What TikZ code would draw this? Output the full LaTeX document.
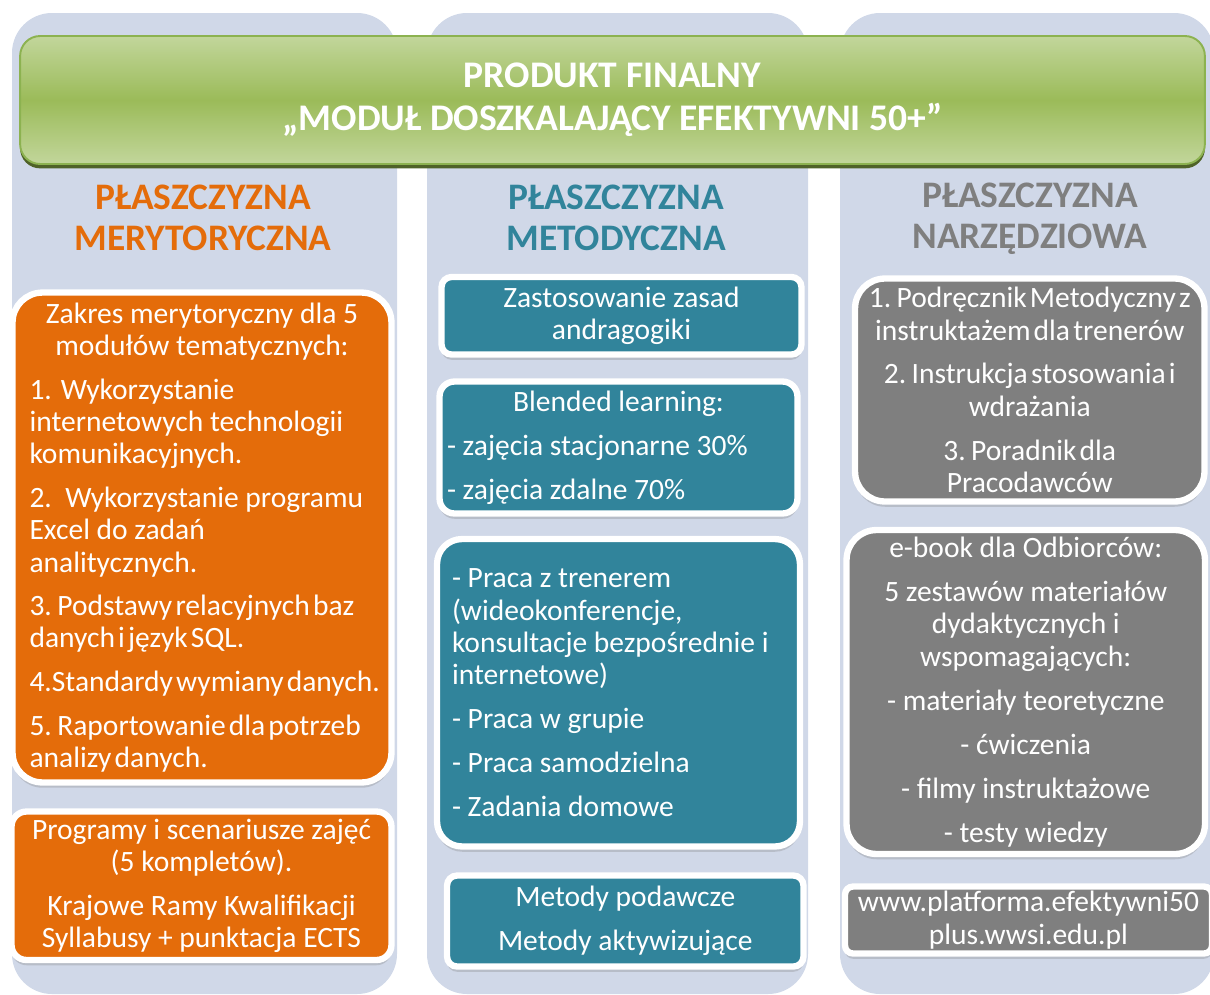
\documentclass[tikz,border=0pt]{standalone}
\usepackage{fontspec}
\setmainfont{Carlito}
\usetikzlibrary{shadows}

\definecolor{colbg}{RGB}{208,216,232}
\definecolor{merora}{RGB}{228,108,10}
\definecolor{metteal}{RGB}{49,132,155}
\definecolor{nargray}{RGB}{127,127,127}
\definecolor{banlight}{RGB}{194,214,155}
\definecolor{banmid}{RGB}{155,187,89}
\definecolor{banline}{RGB}{140,178,80}
\definecolor{banshadow}{RGB}{79,98,40}

\newcommand{\narrowsp}{\spaceskip 1.8pt plus 1pt\relax}

\tikzstyle{col} = [fill=colbg, rounded corners=0.8cm]
\tikzstyle{ban} = [rectangle, rounded corners=0.4cm, minimum width=23.7cm, minimum height=2.56cm, inner sep=0pt, draw=banline, line width=1.1pt, top color=banlight, bottom color=banlight, middle color=banmid, drop shadow={shadow xshift=0pt, shadow yshift=-2.5pt, fill=banshadow, opacity=1}, text=white, align=center, font=\fontsize{21.4}{24.4}\selectfont\bfseries]
\tikzstyle{hdr} = [align=center, font=\fontsize{21.3}{23.2}\selectfont\bfseries]
\tikzstyle{card} = [rectangle, inner sep=0pt, draw=white, line width=3.6pt, text=white, align=center, drop shadow={shadow xshift=0pt, shadow yshift=-3pt, opacity=.3}, font=\fontsize{16.8}{18.4}\selectfont]
\tikzstyle{mer} = [card, fill=merora]
\tikzstyle{met} = [card, fill=metteal]
\tikzstyle{nar} = [card, fill=nargray]

\begin{document}
\begin{tikzpicture}[x=0.02cm, y=-0.02cm]
\useasboundingbox (0,0) rectangle (1210,994);

%% Columns
\fill [col] (12,13) rectangle (397,994);
\fill [col] (427,13) rectangle (808,994);
\fill [col] (840,13) rectangle (1214,994);

%% Final product
\node (ban_fin) [ban] at (612.5,100) {PRODUKT FINALNY\\„MODUŁ DOSZKALAJĄCY EFEKTYWNI 50+”};

%% Names
\node (hdr_mer) [hdr, text=merora] at (203,217.5) {PŁASZCZYZNA\\MERYTORYCZNA};
\node (hdr_met) [hdr, text=metteal] at (616,217.5) {PŁASZCZYZNA\\METODYCZNA};
\node (hdr_nar) [hdr, text=nargray] at (1030,218.5) {PŁASZCZYZNA\\NARZĘDZIOWA};

%% Merytoryczna
\node (mer_zak) [mer, minimum width=7.58cm, minimum height=9.8cm, rounded corners=0.6cm, text width=6.9cm, align=flush left] at (202,537.5)
  {{\centering Zakres merytoryczny dla 5\\ modułów tematycznych:\par}\vspace{6.4pt}
   1. Wykorzystanie\\ internetowych technologii\\ komunikacyjnych.\\[6.4pt]
   2.\ \ Wykorzystanie programu\\ Excel do zadań\\ analitycznych.\\[6.4pt]
   {\narrowsp
   3. Podstawy relacyjnych baz\\ danych i język SQL.\\[6.4pt]
   \mbox{4.Standardy wymiany danych.}\\[6.4pt]
   5. Raportowanie dla potrzeb\\ analizy danych.}};
\node (mer_pro) [mer, minimum width=7.6cm, minimum height=2.97cm, rounded corners=0.3cm] at (201.5,885.75)
  {Programy i scenariusze zajęć\\ (5 kompletów).\\[6.6pt] Krajowe Ramy Kwalifikacji\\ Syllabusy + punktacja ECTS};

%% Metodyczna
\node (met_and) [met, minimum width=7.2cm, minimum height=1.55cm, rounded corners=0.2cm] at (621.5,315.75)
  {Zastosowanie zasad\\ andragogiki};
\node (met_ble) [met, minimum width=7.16cm, minimum height=2.64cm, rounded corners=0.3cm, text width=6.86cm, align=flush left] at (618.5,447.5)
  {{\centering Blended learning:\par}\vspace{6.6pt}
   - zajęcia stacjonarne 30\%\\[6.6pt]
   - zajęcia zdalne 70\%};
\node (met_pra) [met, minimum width=7.26cm, minimum height=6.15cm, rounded corners=0.5cm, text width=6.66cm, align=flush left] at (618.5,692.75)
  {- Praca z trenerem\\ (wideokonferencje,\\ konsultacje bezpośrednie i\\ internetowe)\\[6.6pt]
   - Praca w grupie\\[6.6pt]
   - Praca samodzielna\\[6.6pt]
   - Zadania domowe};
\node (met_pod) [met, minimum width=7.13cm, minimum height=1.82cm, rounded corners=0.2cm] at (625.25,921)
  {Metody podawcze\\[6.6pt] Metody aktywizujące};

%% Narzędziowa
\node (nar_pod) [nar, minimum width=6.99cm, minimum height=4.46cm, rounded corners=0.6cm, font=\fontsize{16.8}{18.4}\selectfont\narrowsp] at (1029.75,390)
  {1. Podręcznik Metodyczny z\\ instruktażem dla trenerów\\[6.6pt] 2. Instrukcja stosowania i\\ wdrażania\\[6.6pt] 3. Poradnik dla\\ Pracodawców};
\node (nar_ebo) [nar, minimum width=7.17cm, minimum height=6.48cm, rounded corners=0.6cm] at (1025.75,692)
  {e-book dla Odbiorców:\\[6.6pt] 5 zestawów materiałów\\ dydaktycznych i\\ wspomagających:\\[6.6pt] - materiały teoretyczne\\[6.6pt] - ćwiczenia\\[6.6pt] - filmy instruktażowe\\[6.6pt] - testy wiedzy};
\node (nar_www) [nar, minimum width=7.34cm, minimum height=1.34cm, rounded corners=0.16cm] at (1028.5,920)
  {www.platforma.efektywni50\\ plus.wwsi.edu.pl};
\end{tikzpicture}
\end{document}
